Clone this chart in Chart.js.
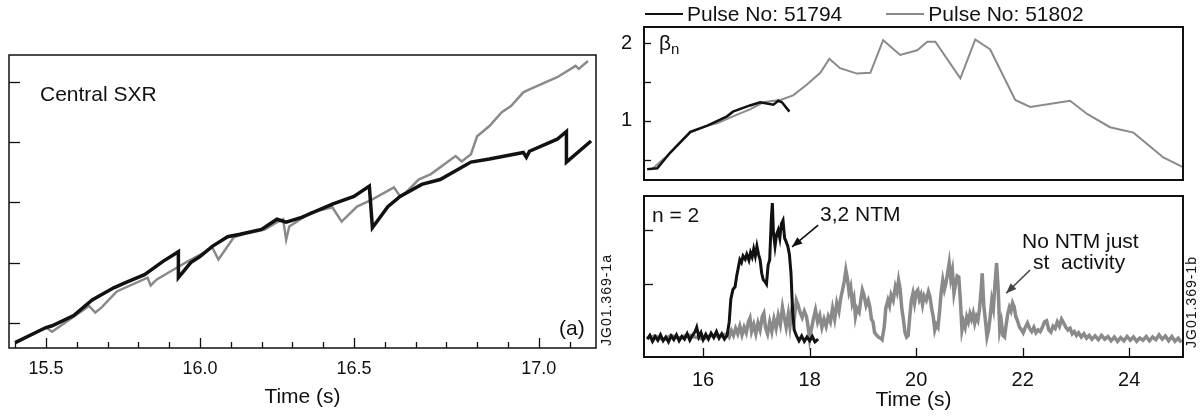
<!DOCTYPE html>
<html lang="en">
<head>
  <meta charset="UTF-8">
  <title>Central SXR, beta_n and n=2 mode amplitude</title>
  <script src="https://cdn.jsdelivr.net/npm/chart.js"></script>
  <style>
    body { margin: 0; background: #fff; }
    #wrap { position: relative; width: 1204px; height: 416px; overflow: hidden;
            font-family: 'Liberation Sans', Arial, sans-serif; color: #111; }
    canvas { position: absolute; }
    .note { position: absolute; font-size: 21px; line-height: 1; white-space: pre; }
    .code { position: absolute; font-size: 14px; line-height: 1; white-space: nowrap; letter-spacing: 1px;
            transform: translate(-50%, -50%) rotate(-90deg); }
    #legend { position: absolute; left: 645px; top: 3px; display: flex; align-items: center;
              font-size: 21px; line-height: 1; white-space: nowrap; }
    #legend .item { display: flex; align-items: center; margin-right: 44px; }
    #legend .swatch { display: inline-block; width: 38px; margin-right: 4px; }
  </style>
</head>
<body>
<div id="wrap">
  <canvas id="sxr" width="610" height="416" style="left:0;top:0"></canvas>
  <canvas id="beta" width="604" height="196" style="left:600px;top:0"></canvas>
  <canvas id="mode" width="604" height="221" style="left:600px;top:195px"></canvas>

  <div class="note" style="left:40px;top:83px">Central SXR</div>
  <div class="note" style="left:559px;top:317px">(a)</div>
  <div class="code" style="left:606px;top:300px">JG01.369-1a</div>

  <div id="legend"></div>
  <div class="note" style="left:659px;top:32px">β<sub style="font-size:15px;vertical-align:-4px">n</sub></div>
  <div class="note" style="left:652px;top:204px">n = 2</div>
  <div class="note" style="left:820px;top:203px">3,2 NTM</div>
  <div class="note" style="left:1022px;top:230px">No NTM just</div>
  <div class="note" style="left:1033px;top:251px">st  activity</div>
  <div class="code" style="left:1191px;top:302px">JG01.369-1b</div>
</div>

<script>
  // ---- (a) central SXR, arbitrary units ----
  const sxrTime51794 = [15.40, 15.50, 15.52, 15.59, 15.65, 15.72, 15.76, 15.82, 15.88, 15.93,
                        15.93, 15.97, 16.00, 16.04, 16.09, 16.13, 16.20, 16.25, 16.28, 16.33,
                        16.43, 16.50, 16.55, 16.56, 16.61, 16.65, 16.72, 16.78, 16.88, 16.94,
                        17.05, 17.06, 17.07, 17.16, 17.19, 17.19, 17.27];
  const sxr51794 = [0.67, 0.92, 0.95, 1.12, 1.38, 1.58, 1.67, 1.80, 2.02, 2.18,
                    1.75, 2.00, 2.10, 2.27, 2.43, 2.47, 2.55, 2.72, 2.67, 2.75,
                    2.97, 3.10, 3.27, 2.58, 2.93, 3.10, 3.30, 3.38, 3.67, 3.72,
                    3.83, 3.75, 3.85, 4.05, 4.18, 3.67, 4.02];
  const sxrTime51802 = [15.40, 15.50, 15.52, 15.64, 15.66, 15.68, 15.73, 15.83, 15.84, 15.86,
                        15.93, 15.96, 16.00, 16.04, 16.06, 16.11, 16.14, 16.21, 16.25, 16.27,
                        16.28, 16.29, 16.36, 16.43, 16.46, 16.51, 16.56, 16.63, 16.65, 16.67,
                        16.71, 16.75, 16.83, 16.85, 16.88, 16.90, 16.94, 16.98, 17.01, 17.05,
                        17.07, 17.16, 17.22, 17.23, 17.26];
  const sxr51802 = [0.67, 0.92, 0.85, 1.28, 1.17, 1.25, 1.52, 1.75, 1.62, 1.72,
                    1.93, 2.02, 2.13, 2.25, 2.05, 2.42, 2.47, 2.55, 2.67, 2.72,
                    2.38, 2.60, 2.83, 2.92, 2.68, 2.93, 3.05, 3.25, 3.10, 3.17,
                    3.38, 3.47, 3.77, 3.68, 3.80, 4.10, 4.27, 4.50, 4.60, 4.83,
                    4.88, 5.08, 5.27, 5.22, 5.35];
  // the printed axis has six 0.1 s steps between "16.5" and "17.0"
  const sxrTickValues = [15.5, 16.0, 16.5, 17.1];
  const sxrTickLabels = ['15.5', '16.0', '16.5', '17.0'];
  const sxrMinorTicks = [15.4, 15.6, 15.7, 15.8, 15.9, 16.1, 16.2, 16.3, 16.4, 16.6, 16.7, 16.8, 16.9, 17.0, 17.2];
  const sxrYTicks = [1, 2, 3, 4, 5];

  // ---- (b) beta_n ----
  const betaTime51794 = [14.95, 15.14, 15.38, 15.76, 16.08, 16.45, 16.56, 16.88, 17.07, 17.32, 17.41, 17.48, 17.62];
  const beta51794 = [0.38, 0.39, 0.59, 0.86, 0.94, 1.06, 1.12, 1.20, 1.24, 1.21, 1.26, 1.24, 1.12];
  const betaTime51802 = [14.95, 15.04, 15.32, 15.76, 16.08, 16.26, 16.56, 16.88, 17.13, 17.45,
                         17.69, 17.95, 18.20, 18.37, 18.57, 18.89, 19.14, 19.38, 19.70, 20.02,
                         20.21, 20.36, 20.83, 21.11, 21.39, 21.86, 22.14, 22.89, 23.21, 23.64,
                         24.08, 24.64, 25.00];
  const beta51802 = [0.38, 0.38, 0.55, 0.85, 0.94, 0.97, 1.06, 1.15, 1.24, 1.27,
                     1.33, 1.47, 1.62, 1.80, 1.68, 1.61, 1.62, 2.04, 1.85, 1.91,
                     2.02, 2.02, 1.55, 2.05, 1.92, 1.27, 1.18, 1.26, 1.09, 0.92,
                     0.85, 0.53, 0.41];
  const betaTicks = [1, 2];
  const betaMinorTicks = [0.5, 1.5];

  // ---- (b) n = 2 mode amplitude, arbitrary units ----
  const modeTime51794 = [14.95, 15.00, 15.05, 15.10, 15.15, 15.20, 15.25, 15.30, 15.35, 15.40,
                         15.45, 15.50, 15.55, 15.60, 15.65, 15.70, 15.75, 15.80, 15.85, 15.88,
                         15.92, 15.96, 16.00, 16.05, 16.10, 16.15, 16.20, 16.25, 16.30, 16.35,
                         16.40, 16.45, 16.49, 16.52, 16.56, 16.60, 16.63, 16.66, 16.69, 16.72,
                         16.75, 16.79, 16.82, 16.86, 16.89, 16.92, 16.95, 16.98, 17.01, 17.04,
                         17.07, 17.10, 17.13, 17.16, 17.19, 17.22, 17.25, 17.28, 17.30, 17.32,
                         17.35, 17.38, 17.41, 17.44, 17.47, 17.50, 17.53, 17.56, 17.59, 17.62,
                         17.65, 17.68, 17.71, 17.75, 17.80, 17.85, 17.90, 17.95, 18.00, 18.05,
                         18.10, 18.16];
  const mode51794 = [-0.02, 0.05, -0.06, 0.03, -0.04, 0.06, -0.05, 0.02, -0.07, 0.04,
                     -0.03, 0.06, -0.05, 0.03, -0.02, 0.08, -0.04, 0.05, 0.12, 0.20,
                     0.02, 0.10, -0.03, 0.07, -0.02, 0.09, 0.01, 0.12, 0.00, 0.08,
                     -0.02, 0.05, 0.30, 0.72, 0.90, 0.95, 1.15, 1.30, 1.45, 1.40,
                     1.52, 1.46, 1.55, 1.44, 1.58, 1.50, 1.65, 1.52, 1.70, 1.55,
                     1.45, 1.20, 1.08, 1.05, 1.00, 1.35, 1.45, 2.20, 2.50, 1.95,
                     1.70, 1.92, 2.00, 1.85, 2.12, 2.18, 1.85, 1.78, 1.70, 1.55,
                     1.20, 0.50, 0.15, 0.05, -0.05, 0.04, -0.06, 0.02, -0.05, 0.03,
                     -0.07, -0.02];
  const modeTime51802 = [14.95, 15.10, 15.25, 15.40, 15.55, 15.70, 15.85, 16.00, 16.15, 16.30,
                         16.45, 16.49, 16.53, 16.57, 16.61, 16.65, 16.69, 16.73, 16.77, 16.81,
                         16.85, 16.88, 16.91, 16.95, 16.99, 17.03, 17.07, 17.11, 17.14, 17.17,
                         17.21, 17.25, 17.29, 17.33, 17.37, 17.41, 17.45, 17.49, 17.52, 17.56,
                         17.60, 17.63, 17.67, 17.71, 17.75, 17.78, 17.82, 17.86, 17.90, 17.94,
                         17.97, 18.00, 18.03, 18.07, 18.11, 18.15, 18.19, 18.23, 18.27, 18.31,
                         18.35, 18.39, 18.43, 18.47, 18.51, 18.55, 18.58, 18.62, 18.65, 18.68,
                         18.71, 18.74, 18.77, 18.80, 18.83, 18.86, 18.89, 18.93, 18.96, 18.99,
                         19.02, 19.06, 19.10, 19.13, 19.16, 19.19, 19.22, 19.26, 19.29, 19.33,
                         19.36, 19.40, 19.43, 19.47, 19.50, 19.53, 19.57, 19.61, 19.64, 19.67,
                         19.70, 19.73, 19.76, 19.79, 19.82, 19.85, 19.88, 19.91, 19.94, 19.97,
                         20.00, 20.03, 20.06, 20.09, 20.12, 20.15, 20.19, 20.23, 20.26, 20.29,
                         20.32, 20.35, 20.38, 20.41, 20.44, 20.47, 20.50, 20.53, 20.56, 20.59,
                         20.62, 20.65, 20.68, 20.71, 20.74, 20.77, 20.80, 20.83, 20.86, 20.89,
                         20.92, 20.95, 20.98, 21.01, 21.04, 21.07, 21.10, 21.13, 21.16, 21.19,
                         21.22, 21.24, 21.27, 21.30, 21.33, 21.36, 21.39, 21.42, 21.45, 21.48,
                         21.51, 21.54, 21.57, 21.60, 21.63, 21.66, 21.69, 21.72, 21.75, 21.78,
                         21.81, 21.84, 21.87, 21.90, 21.94, 21.98, 22.01, 22.05, 22.09, 22.13,
                         22.17, 22.21, 22.25, 22.29, 22.33, 22.37, 22.41, 22.45, 22.49, 22.53,
                         22.57, 22.61, 22.65, 22.69, 22.73, 22.77, 22.81, 22.85, 22.89, 22.93,
                         22.97, 23.01, 23.05, 23.10, 23.15, 23.20, 23.25, 23.30, 23.36, 23.42,
                         23.48, 23.54, 23.60, 23.66, 23.72, 23.78, 23.84, 23.90, 23.96, 24.02,
                         24.08, 24.14, 24.20, 24.26, 24.32, 24.38, 24.44, 24.50, 24.56, 24.62,
                         24.68, 24.74, 24.80, 24.86, 24.92, 24.98];
  const mode51802 = [0.00, 0.04, -0.03, 0.05, 0.00, 0.06, 0.02, -0.02, 0.05, 0.03,
                     0.08, 0.02, 0.14, 0.05, 0.18, 0.08, 0.22, 0.06, 0.20, 0.10,
                     0.30, 0.37, 0.12, 0.25, 0.08, 0.28, 0.15, 0.40, 0.46, 0.20,
                     0.08, 0.30, 0.12, 0.35, 0.18, 0.42, 0.25, 0.57, 0.40, 0.20,
                     0.45, 0.22, 0.55, 0.35, 0.70, 0.62, 0.48, 0.38, 0.50, 0.40,
                     0.22, -0.02, 0.15, 0.35, 0.52, 0.30, 0.42, 0.20, 0.35, 0.22,
                     0.40, 0.30, 0.55, 0.35, 0.65, 0.50, 0.72, 0.90, 1.05, 1.26,
                     1.10, 0.85, 0.95, 0.65, 0.75, 0.40, 0.55, 0.48, 0.70, 0.89,
                     0.80, 0.60, 0.70, 0.58, 0.35, 0.30, 0.10, 0.05, 0.02, 0.00,
                     -0.03, 0.20, 0.55, 0.70, 0.60, 0.80, 0.70, 0.95, 0.85, 1.07,
                     0.90, 0.55, 0.35, 0.10, 0.02, 0.05, 0.40, 0.70, 0.83, 0.65,
                     0.85, 0.89, 0.72, 0.80, 0.62, 0.78, 0.70, 0.86, 0.76, 0.55,
                     0.40, 0.15, 0.25, 0.20, 0.50, 0.85, 1.07, 0.90, 1.02, 1.20,
                     1.39, 1.10, 1.25, 0.83, 1.00, 1.15, 1.13, 0.70, 0.15, 0.30,
                     0.20, 0.39, 0.30, 0.45, 0.35, 0.46, 0.28, 0.40, 0.33, 0.55,
                     0.90, 1.20, 0.60, 0.33, 0.02, 0.15, 0.40, 0.70, 0.55, 1.00,
                     1.39, 0.90, 0.15, 0.30, 0.05, 0.02, 0.25, 0.45, 0.57, 0.50,
                     0.65, 0.58, 0.40, 0.33, 0.20, 0.15, 0.10, 0.20, 0.28, 0.18,
                     0.12, 0.20, 0.10, 0.15, 0.12, 0.20, 0.30, 0.32, 0.15, 0.11,
                     0.22, 0.18, 0.30, 0.22, 0.35, 0.28, 0.20, 0.15, 0.18, 0.08,
                     0.12, 0.05, 0.10, 0.02, 0.08, 0.00, 0.05, -0.02, 0.04, -0.03,
                     0.05, -0.02, 0.03, -0.05, 0.02, -0.06, 0.01, -0.05, 0.03, -0.04,
                     0.02, -0.06, 0.00, -0.04, 0.03, -0.05, 0.02, -0.03, 0.06, -0.02,
                     0.04, -0.05, 0.03, -0.06, 0.00, -0.08];
  const timeTicks = [16, 18, 20, 22, 24];
  const modeTicks = [1, 2];

  const BLACK = '#111111';
  const GREY = '#8a8a8a';
  const FONT = "'Liberation Sans', Arial, sans-serif";

  Chart.defaults.font.family = FONT;
  Chart.defaults.color = BLACK;

  const pts = (t, v) => t.map((x, i) => ({ x: x, y: v[i] }));

  // box around the plot area plus inward tick marks, placed with the chart's scales
  const frameTicks = {
    id: 'frameTicks',
    afterDatasetsDraw(chart, args, opts) {
      const { ctx, chartArea: a, scales } = chart;
      ctx.save();
      ctx.strokeStyle = BLACK;
      ctx.lineWidth = opts.width || 1.5;
      ctx.strokeRect(a.left, a.top, a.right - a.left, a.bottom - a.top);
      ctx.lineWidth = 1.3;
      (opts.x || []).forEach(([vals, len]) => vals.forEach(v => {
        const px = Math.round(scales.x.getPixelForValue(v)) + 0.5;
        ctx.beginPath(); ctx.moveTo(px, a.bottom); ctx.lineTo(px, a.bottom - len); ctx.stroke();
      }));
      (opts.y || []).forEach(([vals, len]) => vals.forEach(v => {
        const py = Math.round(scales.y.getPixelForValue(v)) + 0.5;
        ctx.beginPath(); ctx.moveTo(a.left, py); ctx.lineTo(a.left + len, py); ctx.stroke();
      }));
      (opts.arrows || []).forEach(ar => {
        const x1 = scales.x.getPixelForValue(ar.from[0]), y1 = scales.y.getPixelForValue(ar.from[1]);
        const x2 = scales.x.getPixelForValue(ar.to[0]), y2 = scales.y.getPixelForValue(ar.to[1]);
        const ang = Math.atan2(y2 - y1, x2 - x1);
        ctx.strokeStyle = ar.color || BLACK;
        ctx.lineWidth = 1.6;
        ctx.beginPath(); ctx.moveTo(x1, y1); ctx.lineTo(x2, y2); ctx.stroke();
        ctx.fillStyle = ar.color || BLACK;
        ctx.beginPath();
        ctx.moveTo(x2, y2);
        ctx.lineTo(x2 - 11 * Math.cos(ang - 0.38), y2 - 11 * Math.sin(ang - 0.38));
        ctx.lineTo(x2 - 11 * Math.cos(ang + 0.38), y2 - 11 * Math.sin(ang + 0.38));
        ctx.closePath(); ctx.fill();
      });
      ctx.restore();
    }
  };

  const base = {
    responsive: false,
    animation: false,
    devicePixelRatio: 1,
    plugins: { legend: { display: false }, tooltip: { enabled: false } },
    elements: { point: { radius: 0 }, line: { tension: 0 } }
  };
  const hiddenY = (w) => ({
    grid: { display: false }, border: { display: false },
    ticks: { display: false }, afterFit: s => { s.width = w; }
  });

  // (a) central SXR
  new Chart(document.getElementById('sxr'), {
    type: 'line',
    data: {
      datasets: [
        { label: 'Pulse No: 51794', data: pts(sxrTime51794, sxr51794), borderColor: BLACK, borderWidth: 3.5 },
        { label: 'Pulse No: 51802', data: pts(sxrTime51802, sxr51802), borderColor: GREY, borderWidth: 2.5 }
      ]
    },
    options: Object.assign({}, base, {
      layout: { padding: { top: 55, right: 14, left: 0, bottom: 0 } },
      plugins: Object.assign({}, base.plugins, {
        frameTicks: { width: 1.5, x: [[sxrTickValues, 10], [sxrMinorTicks, 6]], y: [[sxrYTicks, 11]] }
      }),
      scales: {
        x: {
          type: 'linear', min: 15.38, max: 17.286,
          grid: { display: false }, border: { display: false },
          afterBuildTicks: s => { s.ticks = sxrTickValues.map(v => ({ value: v })); },
          afterFit: s => { s.height = 68; },
          ticks: { callback: (v, i) => sxrTickLabels[i], font: { size: 18 }, padding: 2, maxRotation: 0, autoSkip: false },
          title: { display: true, text: 'Time (s)', font: { size: 21 }, padding: { top: 0, bottom: 6 } }
        },
        y: Object.assign({ min: 0.58, max: 5.45 }, hiddenY(9))
      }
    }),
    plugins: [frameTicks]
  });

  // (b) top: beta_n
  const betaChart = new Chart(document.getElementById('beta'), {
    type: 'line',
    data: {
      datasets: [
        { label: 'Pulse No: 51794', data: pts(betaTime51794, beta51794), borderColor: BLACK, borderWidth: 2.5 },
        { label: 'Pulse No: 51802', data: pts(betaTime51802, beta51802), borderColor: GREY, borderWidth: 2 }
      ]
    },
    options: Object.assign({}, base, {
      layout: { padding: { top: 27, right: 21, left: 0, bottom: 1 } },
      plugins: Object.assign({}, base.plugins, {
        frameTicks: { width: 2, y: [[betaTicks, 7], [betaMinorTicks, 7]] }
      }),
      scales: {
        x: { type: 'linear', min: 14.89, max: 25.01, display: false },
        y: {
          min: 0.24, max: 2.21,
          grid: { display: false }, border: { display: false },
          afterBuildTicks: s => { s.ticks = betaTicks.map(v => ({ value: v })); },
          afterFit: s => { s.width = 44; },
          ticks: { font: { size: 20 }, padding: 4 }
        }
      }
    }),
    plugins: [frameTicks]
  });

  // (b) bottom: n = 2 amplitude
  new Chart(document.getElementById('mode'), {
    type: 'line',
    data: {
      datasets: [
        { label: 'Pulse No: 51794', data: pts(modeTime51794, mode51794), borderColor: BLACK, borderWidth: 3 },
        { label: 'Pulse No: 51802', data: pts(modeTime51802, mode51802), borderColor: GREY, borderWidth: 3.5 }
      ]
    },
    options: Object.assign({}, base, {
      layout: { padding: { top: 1, right: 21, left: 0, bottom: 0 } },
      plugins: Object.assign({}, base.plugins, {
        frameTicks: {
          width: 2, x: [[timeTicks, 9]], y: [[modeTicks, 9]],
          arrows: [{ from: [18.16, 2.09], to: [17.67, 1.69] },
                   { from: [22.14, 1.26], to: [21.69, 0.83], color: '#444' }]
        }
      }),
      scales: {
        x: {
          type: 'linear', min: 14.89, max: 25.01,
          grid: { display: false }, border: { display: false },
          afterBuildTicks: s => { s.ticks = timeTicks.map(v => ({ value: v })); },
          afterFit: s => { s.height = 59; },
          ticks: { font: { size: 20 }, padding: 3, maxRotation: 0, autoSkip: false },
          title: { display: true, text: 'Time (s)', font: { size: 21 }, padding: { top: 0, bottom: 3 } }
        },
        y: Object.assign({ min: -0.35, max: 2.63 }, hiddenY(44))
      }
    }),
    plugins: [frameTicks]
  });

  // legend line above the right-hand panel, built from the beta chart's datasets
  const legend = document.getElementById('legend');
  betaChart.data.datasets.forEach(ds => {
    const item = document.createElement('span');
    item.className = 'item';
    const sw = document.createElement('span');
    sw.className = 'swatch';
    sw.style.borderTop = (ds.borderColor === BLACK ? 2.5 : 2) + 'px solid ' + ds.borderColor;
    item.appendChild(sw);
    item.appendChild(document.createTextNode(ds.label));
    legend.appendChild(item);
  });
</script>
</body>
</html>
